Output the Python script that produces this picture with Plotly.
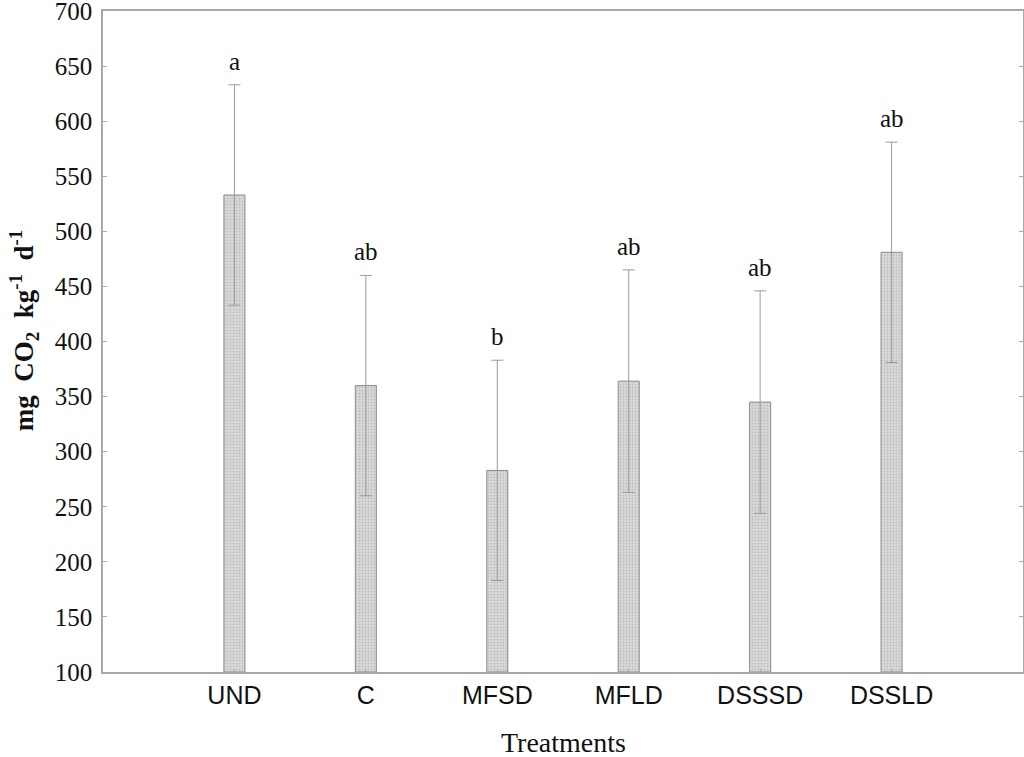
import plotly.graph_objects as go

categories = ["UND", "C", "MFSD", "MFLD", "DSSSD", "DSSLD"]
means = [533, 360, 283, 364, 345, 481]
errors = [100, 100, 100, 101, 101, 100]
letters = ["a", "ab", "b", "ab", "ab", "ab"]
y_ticks = list(range(100, 701, 50))

fig = go.Figure()
fig.add_trace(go.Bar(
    x=categories, y=[m - 100 for m in means], base=100,
    width=0.16,
    marker=dict(color="#d4d4d4", line=dict(color="#8a8a8a", width=1),
                pattern=dict(shape=".", fgcolor="#a0a0a0", bgcolor="#dadada",
                             size=3, solidity=0.3)),
    error_y=dict(type="data", array=errors, visible=True,
                 color="#9a9a9a", thickness=1, width=6),
    showlegend=False,
))

for c, m, e, l in zip(categories, means, errors, letters):
    fig.add_annotation(x=c, y=m + e, text=l, showarrow=False,
                       yanchor="bottom", yshift=8,
                       font=dict(family="Liberation Serif", size=25, color="#111"))

fig.add_annotation(xref="paper", yref="paper", x=0.5, y=0, yshift=-70,
                   text="Treatments", showarrow=False, yanchor="middle",
                   font=dict(family="Liberation Serif", size=28, color="#111"))
fig.add_annotation(xref="paper", yref="paper", x=0, xshift=-79, y=0.517,
                   text="<b>mg  CO<sub>2</sub>  kg<sup>-1</sup>  d<sup>-1</sup></b>",
                   textangle=-90, showarrow=False, xanchor="center", yanchor="middle",
                   font=dict(family="Liberation Serif", size=27, color="#111"))

fig.update_layout(
    width=1024, height=757,
    margin=dict(l=103, r=1, t=11, b=85),
    plot_bgcolor="white", paper_bgcolor="white",
    xaxis=dict(range=[-1, 6], showline=True, linecolor="#a8a8a8", linewidth=1.5,
               mirror=True, ticks="inside", ticklen=3, tickcolor="#a8a8a8",
               automargin=False,
               tickfont=dict(family="Liberation Sans", size=25, color="#111")),
    yaxis=dict(range=[100, 700.01], tickvals=y_ticks, showline=True, linecolor="#a8a8a8",
               linewidth=1.5, mirror="ticks", ticks="inside", ticklen=4,
               tickcolor="#a8a8a8", showgrid=False, zeroline=False, automargin=False,
               ticklabeloverflow="allow", ticklabelstandoff=4,
               tickfont=dict(family="Liberation Serif", size=25, color="#111")),
)

fig.write_html("out.html", config={"displayModeBar": False},
               post_script="document.body.style.margin='0';document.body.style.overflow='hidden';")
